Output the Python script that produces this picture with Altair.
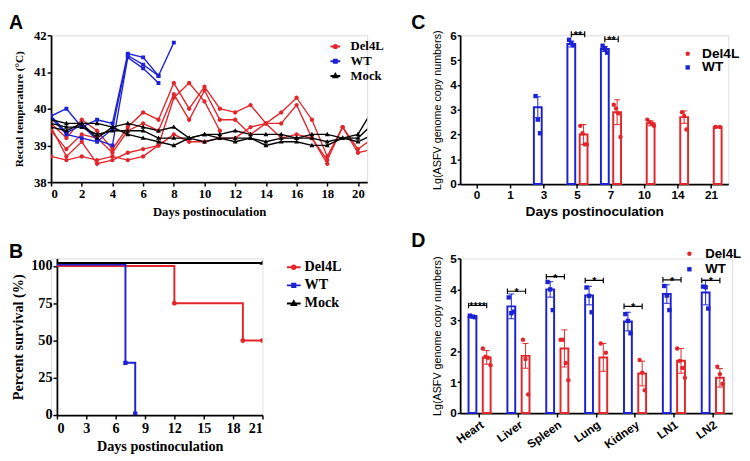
import altair as alt
import pandas as pd

RED = "#e3262b"
BLUE = "#1c22d4"
BLACK = "#000000"
SERIF = "Liberation Serif"
SANS = "Liberation Sans"

# ---------------- Panel A: rectal temperature (one list per pig) ----------------
a_days = list(range(22))
a_del4l_1 = [39.6, 39.2, 39.7, 39.4, 38.9, 39.5, 39.9, 39.7, 40.7, 40.0, 40.6, 40.0, 39.9, 40.1, 39.6, 39.9, 40.3, 39.7, 38.7, 39.5, 38.9, 39.2]
a_del4l_2 = [39.4, 38.9, 39.3, 39.2, 38.8, 39.4, 39.6, 39.4, 40.4, 39.7, 40.5, 39.7, 39.7, 39.3, 39.6, 39.6, 40.1, 39.2, 38.5]
a_del4l_3 = [39.5, 38.7, 39.1, 38.5, 38.6, 38.8, 38.9, 39.0, 40.3, 40.7, 40.2, 39.4]
a_del4l_4 = [38.7, 38.6, 38.7, 38.6, 38.7, 38.6, 38.7, 39.0, 39.3, 39.1, 39.1, 39.2, 39.2, 39.5, 39.6, 39.2, 39.3, 39.2, 38.6, 39.5, 38.8, 38.9]
a_wt_1 = [39.8, 40.0, 39.5, 39.7, 39.6, 41.5, 41.4, 40.9, 41.8]
a_wt_2 = [39.75, 39.3, 39.2, 39.1, 39.45, 41.45, 41.2, 40.9]
a_wt_3 = [39.8, 39.35, 39.55, 39.15, 39.0, 41.4, 41.1, 40.7]
a_mock_1 = [39.7, 39.6, 39.6, 39.6, 39.5, 39.6, 39.5, 39.4, 39.5, 39.2, 39.3, 39.3, 39.4, 39.3, 39.3, 39.3, 39.2, 39.3, 39.3, 39.2, 39.3, 40.0]
a_mock_2 = [39.6, 39.5, 39.5, 39.3, 39.4, 39.4, 39.4, 39.2, 39.2, 39.2, 39.1, 39.2, 39.2, 39.2, 39.1, 39.2, 39.2, 39.2, 39.1, 39.2, 39.2, 39.6]
a_mock_3 = [39.5, 39.4, 39.6, 39.2, 39.5, 39.3, 39.2, 39.1, 39.0, 39.2, 39.3, 39.2, 39.1, 39.2, 39.0, 39.1, 39.1, 39.0, 39.0, 39.2, 39.1, 39.3]

# ---------------- Panel B: survival ----------------
b_del4l_days = [0, 12, 19, 21]
b_del4l_pct = [100, 75, 50, 50]
b_del4l_marker = [False, True, True, True]
b_wt_days = [0, 7, 8]
b_wt_pct = [101, 35, 1]
b_wt_marker = [False, True, True]
b_mock_days = [0, 21]
b_mock_pct = [102, 102]
b_mock_marker = [False, True]

# ---------------- Panel C: viremia ----------------
c_days = ["0", "1", "3", "5", "7", "10", "14", "21"]
c_wt_days = ["3", "5", "7"]
c_wt_mean = [3.1, 5.65, 5.45]
c_wt_sd = [0.42, 0.12, 0.1]
c_wt_points = [[3.55, 2.6, 2.05], [5.82, 5.68, 5.6], [5.58, 5.45, 5.3]]
c_del4l_days = ["5", "7", "10", "14", "21"]
c_del4l_mean = [2.0, 2.9, 2.45, 2.7, 2.3]
c_del4l_sd = [0.4, 0.5, 0.1, 0.25, 0.03]
c_del4l_points = [[2.35, 2.05, 1.6, 1.6], [3.2, 3.05, 2.85, 1.9], [2.6, 2.5, 2.45, 2.35], [2.9, 2.75, 2.2], [2.3, 2.3]]
c_sig_days = ["5", "7"]
c_sig_y = [6.04, 5.84]
c_sig_text = ["**", "**"]

# ---------------- Panel D: tissues ----------------
d_tissues = ["Heart", "Liver", "Spleen", "Lung", "Kidney", "LN1", "LN2"]
d_wt_mean = [3.12, 3.45, 4.0, 3.8, 2.96, 3.85, 3.9]
d_wt_sd = [0.04, 0.4, 0.25, 0.3, 0.3, 0.3, 0.4]
d_wt_points = [[3.15, 3.12, 3.1], [3.74, 3.23, 3.28], [4.24, 4.0, 3.33], [4.06, 3.79, 3.26],
               [3.2, 2.98, 2.58], [4.11, 3.8, 3.33], [4.09, 4.07, 3.38]]
d_del4l_mean = [1.8, 1.85, 2.09, 1.8, 1.28, 1.69, 1.14]
d_del4l_sd = [0.22, 0.4, 0.6, 0.45, 0.4, 0.4, 0.3]
d_del4l_points = [[2.09, 1.82, 1.79, 1.55], [2.37, 1.75, 0.6], [2.37, 2.37, 1.62, 1.06], [2.25, 1.95],
                  [1.72, 1.31, 0.74], [2.09, 1.69, 1.46, 1.14], [1.5, 1.26, 0.94]]
d_sig_y = [3.48, 3.94, 4.41, 4.29, 3.45, 4.31, 4.29]
d_sig_text = ["****", "*", "*", "*", "*", "*", "*"]

GROUPS = ["Del4L", "WT", "Mock"]
COLORS = [RED, BLUE, BLACK]
GROUPS2 = ["Del4L", "WT"]
COLORS2 = [RED, BLUE]
SHAPES2 = ["circle", "square"]

# sub-band slots used to place the two bars and their dots inside each category
SLOTS = [f"s{i}" for i in range(30)]
SLOT_CENTER = {"WT": 9, "Del4L": 20}
SPREAD = {1: [0], 2: [-2, 2], 3: [-2, 0, 2], 4: [-3, -1, 1, 3]}


def marker_paths(r):
    """Marker symbols with a horizontal line through them (the line only shows when stroked)."""
    h = r * 0.9
    circle = f"M-1,0H1M{r},0A{r},{r},0,1,1,{-r},0A{r},{r},0,1,1,{r},0Z"
    square = f"M-1,0H1M{-h:.3f},{-h:.3f}H{h:.3f}V{h:.3f}H{-h:.3f}Z"
    tri = f"M-1,0H1M0,{-r * 1.2:.3f}L{r * 1.15:.3f},{r * 0.8:.3f}L{-r * 1.15:.3f},{r * 0.8:.3f}Z"
    return [circle, square, tri]


def ax(title, font, label_size, title_size, title_weight="bold", **kw):
    base = dict(title=title, grid=False, domainColor="black", domainWidth=1.8, tickColor="black",
                tickWidth=1.5, tickSize=4, labelFont=font, labelFontSize=label_size,
                labelFontWeight="bold", labelColor="black", titleFont=font, titleFontSize=title_size,
                titleFontWeight=title_weight, titleColor="black")
    base.update(kw)
    return alt.Axis(**base)


def ptitle(letter, dx):
    return alt.TitleParams(text=letter, anchor="start", frame="group", dx=dx, fontSize=20, font=SANS,
                           fontWeight="bold", color="black", offset=-4)


def legend(x, y, font, size, sym_size, sym_stroke, row_pad, label_offset):
    return alt.Legend(orient="none", legendX=x, legendY=y, title=None, symbolSize=sym_size,
                      symbolStrokeWidth=sym_stroke, labelFont=font, labelFontSize=size,
                      labelFontWeight="bold", labelColor="black", labelOffset=label_offset,
                      rowPadding=row_pad, padding=0)


def line_panel(df, xenc, yenc, paths, leg, dot_size, line_width, w, h, letter, dx, interp=None):
    cs = alt.Scale(domain=GROUPS, range=COLORS)
    ss = alt.Scale(domain=GROUPS, range=paths)
    # an empty layer that only carries the legend (line + marker symbols)
    key = alt.Chart(df).transform_filter("false").mark_point(filled=True, opacity=1, strokeWidth=2).encode(
        x=xenc, y=yenc,
        fill=alt.Fill("group:N", scale=cs, legend=leg),
        stroke=alt.Stroke("group:N", scale=cs, legend=leg),
        shape=alt.Shape("group:N", scale=ss, legend=leg))
    lkw = dict(strokeWidth=line_width, clip=True)
    if interp:
        lkw["interpolate"] = interp
    lines = alt.Chart(df).mark_line(**lkw).encode(
        x=xenc, y=yenc, detail="pig:N", stroke=alt.Stroke("group:N", scale=cs))
    dots = alt.Chart(df).transform_filter("datum.marker").mark_point(
        filled=True, opacity=1, strokeWidth=0, size=dot_size, clip=True).encode(
        x=xenc, y=yenc, fill=alt.Fill("group:N", scale=cs), shape=alt.Shape("group:N", scale=ss))
    return alt.layer(key, lines, dots).properties(width=w, height=h, title=ptitle(letter, dx))


# ================= Panel A =================
rowsA = []
for grp, pigs in [("Del4L", [a_del4l_1, a_del4l_2, a_del4l_3, a_del4l_4]),
                  ("WT", [a_wt_1, a_wt_2, a_wt_3]),
                  ("Mock", [a_mock_1, a_mock_2, a_mock_3])]:
    for k, vals in enumerate(pigs):
        for d, v in zip(a_days, vals):
            rowsA.append({"day": d, "temp": v, "group": grp, "pig": f"{grp}{k}", "marker": True})
dfA = pd.DataFrame(rowsA)

xA = alt.X("day:Q", scale=alt.Scale(domain=[0, 20.6], nice=False, zero=False),
           axis=ax("Days postinoculation", SERIF, 13, 13, values=list(range(0, 21, 2)),
                   labelPadding=2, titlePadding=5))
yA = alt.Y("temp:Q", scale=alt.Scale(domain=[38, 42], nice=False, zero=False),
           axis=ax("Rectal temperature (°C)", SERIF, 13, 11.5, values=[38, 39, 40, 41, 42],
                   labelPadding=1, titlePadding=9))
chartA = line_panel(dfA, xA, yA, marker_paths(0.32), legend(284, 5, SERIF, 13, 100, 2, 1, 9),
                    190, 1.4, 323, 150, "A", -43)

# ================= Panel B =================
rowsB = []
for grp, days, pct, mk in [("Del4L", b_del4l_days, b_del4l_pct, b_del4l_marker),
                           ("WT", b_wt_days, b_wt_pct, b_wt_marker),
                           ("Mock", b_mock_days, b_mock_pct, b_mock_marker)]:
    for d, p, m in zip(days, pct, mk):
        rowsB.append({"day": d, "pct": p, "group": grp, "pig": grp, "marker": m})
dfB = pd.DataFrame(rowsB)

B_SHIFT = 6  # plot of panel B starts a little to the right of panel A's
xB = alt.X("day:Q", scale=alt.Scale(domain=[0, 21], nice=False, zero=False, range=[B_SHIFT, 210 + B_SHIFT]),
           axis=ax("Days postinoculation", SERIF, 14.5, 14.5, values=list(range(0, 22, 3)),
                   labelPadding=3, titlePadding=5))
yB = alt.Y("pct:Q", scale=alt.Scale(domain=[0, 105], nice=False, zero=False),
           axis=ax("Percent survival (%)", SERIF, 14.5, 14.5, values=[0, 25, 50, 75, 100],
                   labelPadding=1, titlePadding=5, offset=-B_SHIFT))
chartB = line_panel(dfB, xB, yB, marker_paths(0.26), legend(240, 1, SERIF, 14.5, 196, 2, 3.5, 3),
                    360, 2, 210 + B_SHIFT, 160, "B", -43, interp="step-after")


# ================= Panels C & D (bar + dot plots) =================
def bar_frames(cats_wt, mean_wt, sd_wt, pts_wt, cats_del, mean_del, sd_del, pts_del):
    bars, pts = [], []
    for grp, cats, means, sds, ptl in [("WT", cats_wt, mean_wt, sd_wt, pts_wt),
                                        ("Del4L", cats_del, mean_del, sd_del, pts_del)]:
        c0 = SLOT_CENTER[grp]
        for c, m, s, pl in zip(cats, means, sds, ptl):
            bars.append({"cat": c, "group": grp, "mean": m, "lo": m - s, "hi": m + s, "slot": f"s{c0}"})
            for v, k in zip(pl, SPREAD[len(pl)]):
                pts.append({"cat": c, "group": grp, "value": v, "slot": f"s{c0 + k}"})
    return pd.DataFrame(bars), pd.DataFrame(pts)


def sig_frames(cats, ys, texts, s_left, s_right, delta):
    br, tx = [], []
    mid = (s_left + s_right) // 2
    for i, (c, y, t) in enumerate(zip(cats, ys, texts)):
        seq = [(s_left, y - delta), (s_left, y + delta), (s_left, y), (s_right, y),
               (s_right, y + delta), (s_right, y - delta)]
        for j, (s, yy) in enumerate(seq):
            br.append({"cat": c, "slot": f"s{s}", "y": yy, "id": i, "order": j})
        tx.append({"cat": c, "slot": f"s{mid}", "y": y, "text": t})
    return pd.DataFrame(br), pd.DataFrame(tx)


def bar_panel(cats, dfbar, dfpts, dfbr, dftx, ymax, xaxis, yaxis, leg, w, h, letter):
    x = alt.X("cat:N", sort=cats, scale=alt.Scale(domain=cats, paddingInner=0, paddingOuter=0), axis=xaxis)
    xo = alt.XOffset("slot:N", scale=alt.Scale(domain=SLOTS, paddingInner=0, paddingOuter=0))

    def y(field):
        return alt.Y(field, type="quantitative", scale=alt.Scale(domain=[0, ymax], nice=False), axis=yaxis)

    cs = alt.Scale(domain=GROUPS2, range=COLORS2)
    ss = alt.Scale(domain=GROUPS2, range=SHAPES2)
    key = alt.Chart(dfpts).transform_filter("false").mark_point(filled=True, opacity=1, strokeWidth=0).encode(
        x=x, xOffset=xo, y=y("value"),
        color=alt.Color("group:N", scale=cs, legend=leg),
        shape=alt.Shape("group:N", scale=ss, legend=leg))
    bars = alt.Chart(dfbar).mark_bar(fill="white", strokeWidth=2, width=8).encode(
        x=x, xOffset=xo, y=y("mean"), stroke=alt.Stroke("group:N", scale=cs))
    err = alt.Chart(dfbar).mark_rule(strokeWidth=1).encode(
        x=x, xOffset=xo, y=y("lo"), y2="hi", stroke=alt.Stroke("group:N", scale=cs))
    cap_hi = alt.Chart(dfbar).mark_point(shape="stroke", size=36, strokeWidth=1, opacity=1).encode(
        x=x, xOffset=xo, y=y("hi"), stroke=alt.Stroke("group:N", scale=cs))
    cap_lo = alt.Chart(dfbar).mark_point(shape="stroke", size=36, strokeWidth=1, opacity=1).encode(
        x=x, xOffset=xo, y=y("lo"), stroke=alt.Stroke("group:N", scale=cs))
    dots = alt.Chart(dfpts).mark_point(filled=True, size=20, opacity=1, strokeWidth=0).encode(
        x=x, xOffset=xo, y=y("value"),
        color=alt.Color("group:N", scale=cs), shape=alt.Shape("group:N", scale=ss))
    brk = alt.Chart(dfbr).mark_line(color="black", strokeWidth=1.2).encode(
        x=x, xOffset=xo, y=y("y"), detail="id:N", order="order:Q")
    txt = alt.Chart(dftx).mark_text(font=SANS, fontSize=11, fontWeight="bold", baseline="alphabetic",
                                    dy=5, color="black").encode(x=x, xOffset=xo, y=y("y"), text="text:N")
    return alt.layer(key, bars, err, cap_hi, cap_lo, dots, brk, txt).properties(
        width=w, height=h, title=ptitle(letter, -50))


dfCbar, dfCpts = bar_frames(c_wt_days, c_wt_mean, c_wt_sd, c_wt_points,
                            c_del4l_days, c_del4l_mean, c_del4l_sd, c_del4l_points)
dfCbr, dfCtx = sig_frames(c_sig_days, c_sig_y, c_sig_text, 9, 21, 0.12)
chartC = bar_panel(
    c_days, dfCbar, dfCpts, dfCbr, dfCtx, 6,
    ax("Days postinoculation", SANS, 12, 14, labelAngle=0, labelPadding=2, titlePadding=4),
    ax("Lg(ASFV genome copy numbers)", SANS, 12, 11, title_weight="normal", values=list(range(7)),
       tickSize=3, labelPadding=1, titlePadding=7),
    legend(225.5, 11.8, SANS, 14, 20, 0, 0, 7.7), 274, 152, "C")

dfDbar, dfDpts = bar_frames(d_tissues, d_wt_mean, d_wt_sd, d_wt_points,
                            d_tissues, d_del4l_mean, d_del4l_sd, d_del4l_points)
dfDbr, dfDtx = sig_frames(d_tissues, d_sig_y, d_sig_text, 6, 20, 0.09)
chartD = bar_panel(
    d_tissues, dfDbar, dfDpts, dfDbr, dfDtx, 5,
    ax(None, SANS, 12, 12, labelAngle=325, labelAlign="right", labelBaseline="top", labelPadding=2),
    ax("Lg(ASFV genome copy numbers)", SANS, 12, 11, title_weight="normal", values=list(range(6)),
       tickSize=3, labelPadding=1, titlePadding=7),
    legend(227.5, -11.5, SANS, 13.5, 20, 0, 0.8, 9.4), 278, 158, "D")

chart = alt.concat(chartA, chartC, chartB, chartD, columns=2, spacing={"row": 12, "column": 26},
                   align="each", padding=0).resolve_scale(
    color="independent", fill="independent", stroke="independent", shape="independent",
    x="independent", y="independent", xOffset="independent"
).configure_view(stroke=None).configure(background="white")

chart.save("out.html", embed_options={"renderer": "svg", "actions": False})
